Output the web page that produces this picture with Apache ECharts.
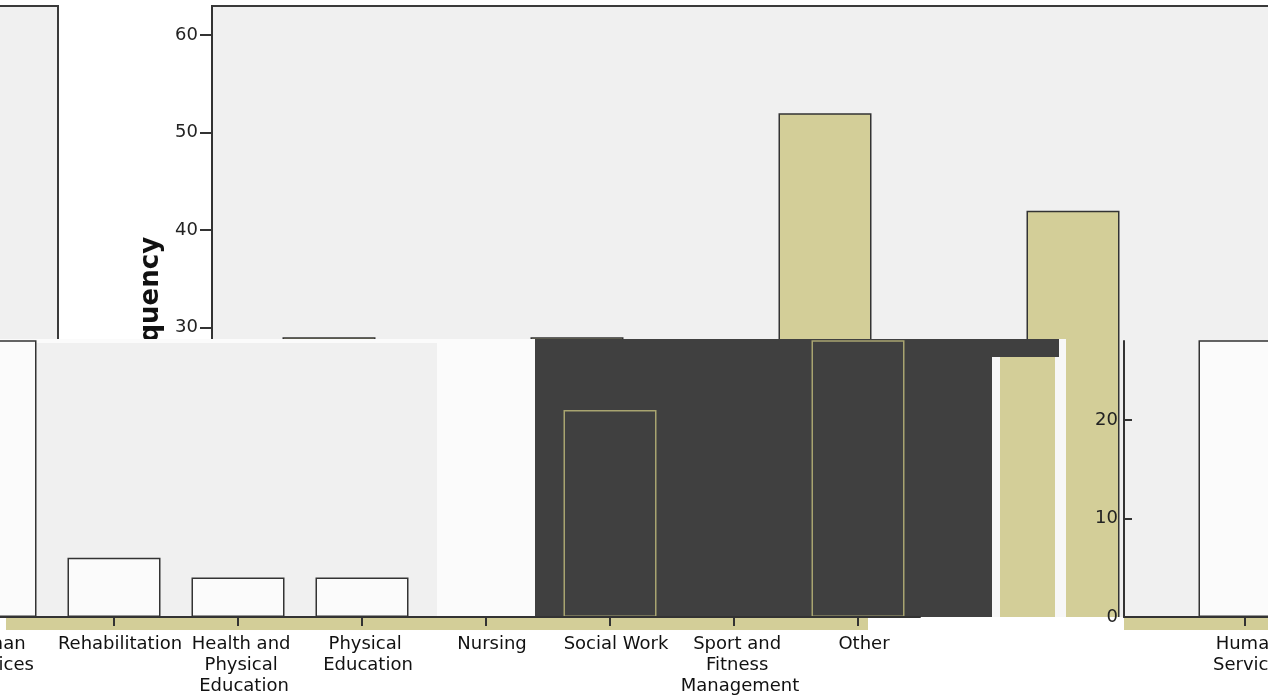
<!DOCTYPE html>
<html>
<head>
<meta charset="utf-8">
<script src="https://cdn.jsdelivr.net/npm/echarts@6/dist/echarts.min.js"></script>
<style>
html,body{margin:0;padding:0;background:#ffffff;}
#c{width:1268px;height:700px;}
</style>
</head>
<body>
<div id="c"></div>
<script>
// ---- data ----
const categories = ["Human Services", "Rehabilitation", "Health and Physical Education", "Physical Education", "Nursing", "Social Work", "Sport and Fitness Management", "Other"];
// lower panel frequencies (Human Services and Other run past the panel top)
const lowerFrequency = [30, 6, 4, 4, 0, 21, null, 30];
// upper (zoomed) panel frequencies
const upperCategories = ["Human Services", "Rehabilitation", "Health and Physical Education", "Physical Education", "Nursing"];
const upperFrequency = [29, 29, 52, 42, null];
// right panel frequencies
const rightCategories = ["Human Services", "Rehabilitation"];
const rightFrequency = [30, 6];
const upperTicks = {min: 0, max: 63, interval: 10};
const lowerTicks = {min: 0, max: 28, interval: 10};

const TAN = '#d3ce98', LIGHT = '#f0f0f0', DARK = '#404040', FONT = 'DejaVu Sans';

const grid = [], xAxis = [], yAxis = [], series = [];
function bgGrid(left, top, width, height, color, z, border) {
  const gi = grid.length;
  grid.push({left, top, width, height, show: true, backgroundColor: color, outerBoundsMode: 'none',
    borderColor: border || 'transparent', borderWidth: border ? 2 : 0, z, containLabel: false});
  xAxis.push({gridIndex: gi, type: 'value', show: false});
  yAxis.push({gridIndex: gi, type: 'value', show: false});
  return gi;
}
const catLabel = {interval: 0, fontFamily: FONT, fontSize: 18, color: '#111', margin: 17, lineHeight: 21,
  width: 128, overflow: 'break', align: 'center', padding: [0, 0, 0, 12]};

// left panel fragment and upper panel background
bgGrid(-300, 6, 358, 720, LIGHT, 1, '#3a3a3a');
bgGrid(212, 6, 1200, 720, LIGHT, 1, '#3a3a3a');

// upper bars
let gi = grid.length;
grid.push({left: 205, top: 6, width: 1240, height: 614, show: false, z: 2, outerBoundsMode: 'none'});
xAxis.push({gridIndex: gi, type: 'category', data: upperCategories, show: false, z: 2});
yAxis.push({gridIndex: gi, type: 'value', min: upperTicks.min, max: upperTicks.max, interval: upperTicks.interval, offset: -7, z: 2,
  name: 'Frequency', nameLocation: 'middle', nameGap: 44,
  nameTextStyle: {fontFamily: FONT, fontWeight: 'bold', fontSize: 26, color: '#111'},
  axisLine: {show: true, lineStyle: {color: '#333', width: 2}},
  axisTick: {show: true, length: 12, lineStyle: {color: '#333', width: 2}},
  axisLabel: {fontFamily: FONT, fontSize: 18, color: '#222', margin: 14, showMaxLabel: false},
  splitLine: {show: false}});
series.push({type: 'bar', xAxisIndex: gi, yAxisIndex: gi, data: upperFrequency, barWidth: 93, z: 2,
  itemStyle: {color: TAN, borderColor: '#333', borderWidth: 1.5}, silent: true});

// white area under the panels
bgGrid(0, 617, 1300, 90, '#ffffff', 3);
// lower strip backgrounds
bgGrid(0, 339, 1059, 278, '#fbfbfb', 4);
bgGrid(6, 343, 431, 274, LIGHT, 5);
bgGrid(535, 339, 524, 278, DARK, 5);
bgGrid(992, 357, 74, 260, '#f7f7f7', 6);
bgGrid(1059, 339, 7, 278, '#f7f7f7', 6);
bgGrid(1000, 357, 55, 260, TAN, 7);
bgGrid(6, 617, 862, 13, TAN, 5);

// lower bars
gi = grid.length;
grid.push({left: -72, top: 341, width: 992, height: 276, show: false, z: 8, outerBoundsMode: 'none'});
xAxis.push({gridIndex: gi, type: 'category', data: categories, z: 9,
  axisLine: {show: true, lineStyle: {color: '#333', width: 2}},
  axisTick: {show: true, alignWithLabel: true, length: 9, lineStyle: {color: '#333', width: 2}},
  axisLabel: catLabel});
yAxis.push({gridIndex: gi, type: 'value', min: lowerTicks.min, max: lowerTicks.max, interval: lowerTicks.interval, show: false});
series.push({type: 'bar', xAxisIndex: gi, yAxisIndex: gi, barWidth: 93, barGap: '-100%', z: 8, silent: true,
  data: lowerFrequency.map((v, i) => i < 5 ? v : null),
  itemStyle: {color: '#fbfbfb', borderColor: '#333', borderWidth: 1.5}});
series.push({type: 'bar', xAxisIndex: gi, yAxisIndex: gi, barWidth: 93, barGap: '-100%', z: 8, silent: true,
  data: lowerFrequency.map((v, i) => i >= 5 ? v : null),
  itemStyle: {color: DARK, borderColor: '#a8a470', borderWidth: 1.5}});

// right panel
bgGrid(1124, 341, 200, 276, LIGHT, 4);
bgGrid(1124, 618, 200, 12, TAN, 4);
gi = grid.length;
grid.push({left: 1124, top: 341, width: 484, height: 276, show: false, z: 8, outerBoundsMode: 'none'});
xAxis.push({gridIndex: gi, type: 'category', data: rightCategories, z: 9,
  axisLine: {show: true, lineStyle: {color: '#333', width: 2}},
  axisTick: {show: true, alignWithLabel: true, length: 9, lineStyle: {color: '#333', width: 2}},
  axisLabel: catLabel});
yAxis.push({gridIndex: gi, type: 'value', min: lowerTicks.min, max: lowerTicks.max, interval: lowerTicks.interval, z: 9,
  axisLine: {show: true, lineStyle: {color: '#333', width: 2}},
  axisTick: {show: true, inside: true, length: 8, lineStyle: {color: '#333', width: 2}},
  axisLabel: {fontFamily: FONT, fontSize: 18, color: '#222', margin: 6, showMaxLabel: false},
  splitLine: {show: false}});
series.push({type: 'bar', xAxisIndex: gi, yAxisIndex: gi, data: rightFrequency, barWidth: 93, z: 8, silent: true,
  itemStyle: {color: '#fbfbfb', borderColor: '#333', borderWidth: 1.5}});

const chart = echarts.init(document.getElementById('c'), null, {renderer: 'canvas'});
chart.setOption({animation: false, backgroundColor: '#ffffff', grid, xAxis, yAxis, series});
</script>
</body>
</html>
